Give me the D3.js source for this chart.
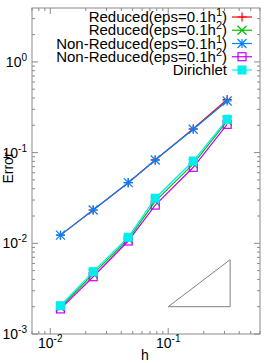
<!DOCTYPE html>
<html><head><meta charset="utf-8">
<script src="https://cdn.jsdelivr.net/npm/d3@7"></script>
<style>body{margin:0;background:#fff}svg{display:block}text{font-family:"Liberation Sans",Arial,sans-serif}</style>
</head><body><svg id="c" width="273" height="363"></svg>
<script>
const h = [0.0122, 0.0231, 0.0458, 0.0776, 0.163, 0.316];
const reducedH1 = [0.0123, 0.0233, 0.0466, 0.0830, 0.183, 0.385];
const reducedH2 = [0.00197, 0.0046, 0.0111, 0.0290, 0.075, 0.222];
const nonReducedH1 = [0.0123, 0.0233, 0.0466, 0.0828, 0.181, 0.371];
const nonReducedH2 = [0.00189, 0.00428, 0.0106, 0.0264, 0.0689, 0.205];
const dirichlet = [0.00205, 0.00487, 0.01165, 0.0314, 0.0808, 0.233];
const slopeTriangleH = [0.1, 0.335, 0.335];
const slopeTriangleE = [0.002, 0.002, 0.0066];
const xTicks = [0.01, 0.1];
const yTicks = [1, 0.1, 0.01, 0.001];
const series = [
  {base:"Reduced(eps=0.1h", sup:"1", values:reducedH1, color:"#ff0000", marker:"plus"},
  {base:"Reduced(eps=0.1h", sup:"2", values:reducedH2, color:"#00c000", marker:"cross"},
  {base:"Non-Reduced(eps=0.1h", sup:"1", values:nonReducedH1, color:"#0080ff", marker:"star"},
  {base:"Non-Reduced(eps=0.1h", sup:"2", values:nonReducedH2, color:"#c000ff", marker:"osquare"},
  {base:"Dirichlet", sup:"", values:dirichlet, color:"#00eeee", marker:"fsquare"}
];
const L=32,R=260,T=8,B=334;
const svg=d3.select("#c");
const x=d3.scaleLog().domain([0.007,0.6]).range([L,R]);
const y=d3.scaleLog().domain([0.001,3.93]).range([B,T]);
const axisCol="#8a8a8a";
function minors(dom){const out=[];for(let e=-4;e<=1;e++)for(let m=1;m<10;m++){const v=m*Math.pow(10,e);if(v>=dom[0]*0.999&&v<=dom[1]*1.001)out.push(v);}return out;}
const g=svg.append("g");
minors(x.domain()).forEach(v=>{const major=Math.abs(Math.log10(v)-Math.round(Math.log10(v)))<1e-9;const len=major?6:3;
 g.append("line").attr("x1",x(v)).attr("x2",x(v)).attr("y1",B).attr("y2",B-len).attr("stroke",axisCol);
 g.append("line").attr("x1",x(v)).attr("x2",x(v)).attr("y1",T).attr("y2",T+len).attr("stroke",axisCol);});
minors(y.domain()).forEach(v=>{const major=Math.abs(Math.log10(v)-Math.round(Math.log10(v)))<1e-9;const len=major?6:3;
 g.append("line").attr("y1",y(v)).attr("y2",y(v)).attr("x1",L).attr("x2",L+len).attr("stroke",axisCol);
 g.append("line").attr("y1",y(v)).attr("y2",y(v)).attr("x1",R).attr("x2",R-len).attr("stroke",axisCol);});
g.append("rect").attr("x",L).attr("y",T).attr("width",R-L).attr("height",B-T).attr("fill","none").attr("stroke",axisCol);
function pow10(sel,v){const e=Math.round(Math.log10(v));sel.append("tspan").text("10");sel.append("tspan").attr("dy",-6).attr("font-size",10).text(String(e));}
xTicks.forEach(v=>{const t=svg.append("text").attr("x",x(v)).attr("y",348).attr("font-size",14).attr("text-anchor","middle");pow10(t,v);});
yTicks.forEach(v=>{const t=svg.append("text").attr("x",27).attr("y",y(v)+5).attr("font-size",14).attr("text-anchor","end");pow10(t,v);});
svg.append("text").attr("x",145).attr("y",360).attr("font-size",14).attr("text-anchor","middle").text("h");
svg.append("text").attr("transform","translate(13,168) rotate(-90)").attr("font-size",14).attr("text-anchor","middle").text("Error");
const tri=slopeTriangleH.map((v,i)=>[x(v),y(slopeTriangleE[i])]);
svg.append("path").attr("d",d3.line()(tri)+"Z").attr("fill","none").attr("stroke","#808080").attr("stroke-width",1);
function marker(sel,type,cx,cy,col){
 const s=4.5;
 if(type==="plus"){sel.append("path").attr("d",`M${cx-s},${cy}H${cx+s}M${cx},${cy-s}V${cy+s}`).attr("stroke",col).attr("stroke-width",1.2);}
 else if(type==="cross"){sel.append("path").attr("d",`M${cx-s},${cy-s}L${cx+s},${cy+s}M${cx-s},${cy+s}L${cx+s},${cy-s}`).attr("stroke",col).attr("stroke-width",1.2);}
 else if(type==="star"){sel.append("path").attr("d",`M${cx-s},${cy}H${cx+s}M${cx},${cy-s}V${cy+s}M${cx-s},${cy-s}L${cx+s},${cy+s}M${cx-s},${cy+s}L${cx+s},${cy-s}`).attr("stroke",col).attr("stroke-width",1.2);}
 else if(type==="osquare"){sel.append("rect").attr("x",cx-4).attr("y",cy-4).attr("width",8).attr("height",8).attr("fill","none").attr("stroke",col).attr("stroke-width",1.2);}
 else if(type==="fsquare"){sel.append("rect").attr("x",cx-4.5).attr("y",cy-4.5).attr("width",9).attr("height",9).attr("fill",col);}
}
const line=d3.line().x(d=>x(d[0])).y(d=>y(d[1]));
series.forEach(s=>{
 const pts=h.map((v,i)=>[v,s.values[i]]);
 const gg=svg.append("g");
 gg.append("path").attr("d",line(pts)).attr("fill","none").attr("stroke",s.color).attr("stroke-width",1.2);
 pts.forEach(p=>marker(gg,s.marker,x(p[0]),y(p[1]),s.color));
});
series.forEach((s,i)=>{
 const ly=17+i*13.25;
 const t=svg.append("text").attr("x",227).attr("y",ly+5).attr("font-size",15).attr("text-anchor","end");
 t.append("tspan").text(s.base);
 if(s.sup){t.append("tspan").attr("dy",-6).attr("font-size",11).text(s.sup);t.append("tspan").attr("dy",6).text(")");}
 svg.append("line").attr("x1",232).attr("x2",252).attr("y1",ly).attr("y2",ly).attr("stroke",s.color).attr("stroke-width",1.2);
 marker(svg,s.marker,242,ly,s.color);
});
</script></body></html>
